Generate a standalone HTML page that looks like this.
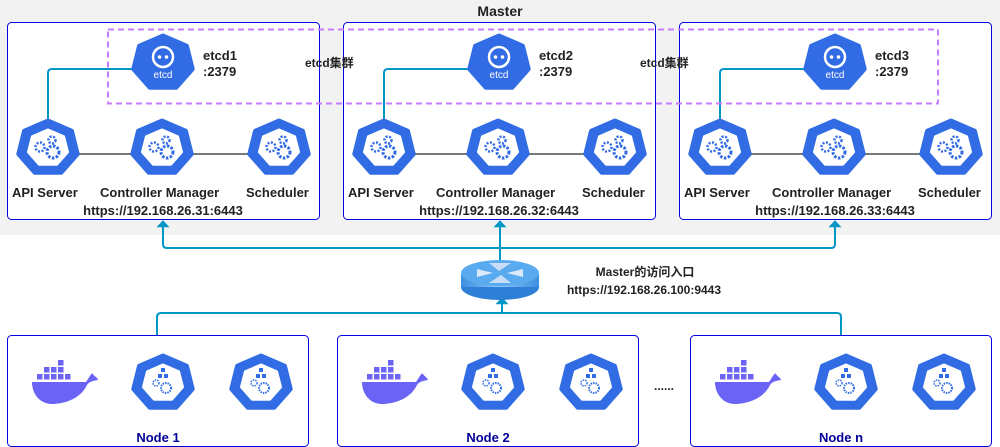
<!DOCTYPE html>
<html><head><meta charset="utf-8"><style>
html,body{margin:0;padding:0;background:#fff}
svg{display:block}
text{font-family:"Liberation Sans","Noto Sans CJK SC",sans-serif;font-weight:bold;fill:#222}
</style></head><body>
<svg width="1000" height="447" viewBox="0 0 1000 447" xmlns="http://www.w3.org/2000/svg">
<defs>
<g id="hept">
<polygon points="0,-27 23.5,-16.8 29.2,6 13,24.3 -13,24.3 -29.2,6 -23.5,-16.8" fill="#326ce5" stroke="#326ce5" stroke-width="5" stroke-linejoin="round"/>
</g>
<g id="ctl">
<use href="#hept"/>
<polygon points="0,-18 15.6,-11.2 19.5,4 8.7,16.2 -8.7,16.2 -19.5,4 -15.6,-11.2" fill="#fff" stroke="#fff" stroke-width="3" stroke-linejoin="round"/>
<circle cx="-8" cy="-1" r="4.5" fill="none" stroke="#326ce5" stroke-width="2.5" stroke-dasharray="2 1.5"/>
<circle cx="4" cy="-8" r="3.5" fill="none" stroke="#326ce5" stroke-width="2.5" stroke-dasharray="2 1.5"/>
<circle cx="5" cy="4" r="6" fill="none" stroke="#326ce5" stroke-width="3" stroke-dasharray="2.5 1.5"/>
</g>
<g id="node">
<use href="#hept"/>
<polygon points="0,-18 15.6,-11.2 19.5,4 8.7,16.2 -8.7,16.2 -19.5,4 -15.6,-11.2" fill="#fff" stroke="#fff" stroke-width="3" stroke-linejoin="round"/>
<rect x="-2" y="-15" width="4" height="4" fill="#326ce5"/>
<rect x="-5" y="-9" width="4" height="4" fill="#326ce5"/>
<rect x="1" y="-9" width="4" height="4" fill="#326ce5"/>
<circle cx="-7" cy="0" r="3" fill="none" stroke="#326ce5" stroke-width="1.5" stroke-dasharray="1.5 1"/>
<circle cx="3" cy="5" r="5" fill="none" stroke="#326ce5" stroke-width="2" stroke-dasharray="1.5 1"/>
</g>
<g id="etcd">
<use href="#hept"/>
<circle cx="0" cy="-6" r="10" fill="none" stroke="#fff" stroke-width="2.5"/>
<circle cx="-3.5" cy="-6" r="1.8" fill="#fff"/>
<circle cx="3.5" cy="-6" r="1.8" fill="#fff"/>
<text x="0" y="15" text-anchor="middle" style="font-weight:normal;fill:#fff;font-size:10px">etcd</text>
</g>
<g id="docker">
<path d="M-30,2 L24,2 C28,-4 30,-8 31,-6 C32,-4 36,-2 36,0 C30,1 27,2 25,5 C18,20 0,24 -10,24 C-22,24 -30,14 -30,2 Z" fill="#6b63f6"/>
<g fill="#6b63f6">
<rect x="-25" y="-6" width="5.5" height="5.5"/><rect x="-18" y="-6" width="5.5" height="5.5"/><rect x="-11" y="-6" width="5.5" height="5.5"/><rect x="-4" y="-6" width="5.5" height="5.5"/><rect x="3" y="-6" width="5.5" height="5.5"/>
<rect x="-18" y="-13" width="5.5" height="5.5"/><rect x="-11" y="-13" width="5.5" height="5.5"/><rect x="-4" y="-13" width="5.5" height="5.5"/>
<rect x="-4" y="-20" width="5.5" height="5.5"/>
</g>
</g>
<marker id="ar" viewBox="0 0 10 10" refX="9" refY="5" markerWidth="7" markerHeight="13" markerUnits="userSpaceOnUse" orient="auto" preserveAspectRatio="none"><path d="M0,0 L10,5 L0,10 Z" fill="#0097c7"/></marker>
<linearGradient id="rg" x1="0" x2="1"><stop offset="0" stop-color="#3d8fe0"/><stop offset="0.5" stop-color="#8cc8f8"/><stop offset="1" stop-color="#3d8fe0"/></linearGradient>
</defs>

<rect x="0" y="0" width="1000" height="235" fill="#f2f2f2"/>
<text x="500" y="16" text-anchor="middle" font-size="14">Master</text>

<g id="m1">
<rect x="7.5" y="22.5" width="312" height="197" rx="4" fill="#fff" stroke="#0000e0" stroke-width="1"/>
<path d="M48,120 V73 Q48,69 52,69 H140" fill="none" stroke="#0097c7" stroke-width="2"/>
<line x1="60" y1="154" x2="265" y2="154" stroke="#777" stroke-width="2"/>
<use href="#etcd" x="163" y="63"/>
<use href="#ctl" x="48" y="148"/>
<use href="#ctl" x="162" y="148"/>
<use href="#ctl" x="279" y="148"/>
<text x="203" y="60" font-size="13">etcd1</text>
<text x="203" y="76" font-size="13">:2379</text>
<text x="12" y="197" font-size="13">API Server</text>
<text x="100" y="197" font-size="13">Controller Manager</text>
<text x="246" y="197" font-size="13">Scheduler</text>
<text x="163" y="215" font-size="13" text-anchor="middle">https://192.168.26.31:6443</text>
</g>
<g transform="translate(336,0)">
<rect x="7.5" y="22.5" width="312" height="197" rx="4" fill="#fff" stroke="#0000e0" stroke-width="1"/>
<path d="M48,120 V73 Q48,69 52,69 H140" fill="none" stroke="#0097c7" stroke-width="2"/>
<line x1="60" y1="154" x2="265" y2="154" stroke="#777" stroke-width="2"/>
<use href="#etcd" x="163" y="63"/>
<use href="#ctl" x="48" y="148"/>
<use href="#ctl" x="162" y="148"/>
<use href="#ctl" x="279" y="148"/>
<text x="203" y="60" font-size="13">etcd2</text>
<text x="203" y="76" font-size="13">:2379</text>
<text x="12" y="197" font-size="13">API Server</text>
<text x="100" y="197" font-size="13">Controller Manager</text>
<text x="246" y="197" font-size="13">Scheduler</text>
<text x="163" y="215" font-size="13" text-anchor="middle">https://192.168.26.32:6443</text>
</g>
<g transform="translate(672,0)">
<rect x="7.5" y="22.5" width="312" height="197" rx="4" fill="#fff" stroke="#0000e0" stroke-width="1"/>
<path d="M48,120 V73 Q48,69 52,69 H140" fill="none" stroke="#0097c7" stroke-width="2"/>
<line x1="60" y1="154" x2="265" y2="154" stroke="#777" stroke-width="2"/>
<use href="#etcd" x="163" y="63"/>
<use href="#ctl" x="48" y="148"/>
<use href="#ctl" x="162" y="148"/>
<use href="#ctl" x="279" y="148"/>
<text x="203" y="60" font-size="13">etcd3</text>
<text x="203" y="76" font-size="13">:2379</text>
<text x="12" y="197" font-size="13">API Server</text>
<text x="100" y="197" font-size="13">Controller Manager</text>
<text x="246" y="197" font-size="13">Scheduler</text>
<text x="163" y="215" font-size="13" text-anchor="middle">https://192.168.26.33:6443</text>
</g>
<rect x="108" y="29.5" width="830" height="74" fill="none" stroke="#c77dff" stroke-width="2" stroke-dasharray="6 4"/>
<text x="305" y="67" font-size="12">etcd集群</text>
<text x="640" y="67" font-size="12">etcd集群</text>

<!-- connectors -->
<path d="M163,228 V244 Q163,248 167,248 H831 Q835,248 835,244 V228" fill="none" stroke="#0097c7" stroke-width="2"/>
<line x1="163" y1="232" x2="163" y2="221" stroke="#0097c7" stroke-width="2" marker-end="url(#ar)"/>
<line x1="835" y1="232" x2="835" y2="221" stroke="#0097c7" stroke-width="2" marker-end="url(#ar)"/>
<line x1="500" y1="262" x2="500" y2="221" stroke="#0097c7" stroke-width="2" marker-end="url(#ar)"/>
<path d="M157,335 V317 Q157,313 161,313 H837 Q841,313 841,317 V335" fill="none" stroke="#0097c7" stroke-width="2"/>
<line x1="502" y1="313" x2="502" y2="298" stroke="#0097c7" stroke-width="2" marker-end="url(#ar)"/>

<!-- router -->
<ellipse cx="500" cy="287" rx="39" ry="13" fill="#2f7fd6"/>
<rect x="461" y="273" width="78" height="14" fill="url(#rg)"/>
<ellipse cx="500" cy="273" rx="39" ry="13" fill="#5aaaf0"/>
<path d="M477,269 L493,273 L477,277 Z M523,269 L507,273 L523,277 Z" fill="#dbe9f8"/>
<path d="M489,263 L499,271 L511,263 Z M489,283 L501,275 L511,283 Z" fill="#c9def5"/>
<text x="645" y="276" font-size="12" text-anchor="middle">Master的访问入口</text>
<text x="644" y="294" font-size="12" text-anchor="middle">https://192.168.26.100:9443</text>

<!-- nodes -->
<g>
<rect x="7.5" y="335.5" width="301" height="111" rx="4" fill="#fff" stroke="#0000e0" stroke-width="1"/>
<use href="#docker" x="62" y="380"/>
<use href="#node" x="163" y="383"/>
<use href="#node" x="261" y="383"/>
<text x="158" y="442" font-size="13" text-anchor="middle" style="fill:#000099">Node 1</text>
</g>
<g transform="translate(330,0)">
<rect x="7.5" y="335.5" width="301" height="111" rx="4" fill="#fff" stroke="#0000e0" stroke-width="1"/>
<use href="#docker" x="62" y="380"/>
<use href="#node" x="163" y="383"/>
<use href="#node" x="261" y="383"/>
<text x="158" y="442" font-size="13" text-anchor="middle" style="fill:#000099">Node 2</text>
</g>
<g transform="translate(683,0)">
<rect x="7.5" y="335.5" width="301" height="111" rx="4" fill="#fff" stroke="#0000e0" stroke-width="1"/>
<use href="#docker" x="62" y="380"/>
<use href="#node" x="163" y="383"/>
<use href="#node" x="261" y="383"/>
<text x="158" y="442" font-size="13" text-anchor="middle" style="fill:#000099">Node n</text>
</g>
<text x="664" y="390" font-size="12" text-anchor="middle">......</text>
</svg>
</body></html>
